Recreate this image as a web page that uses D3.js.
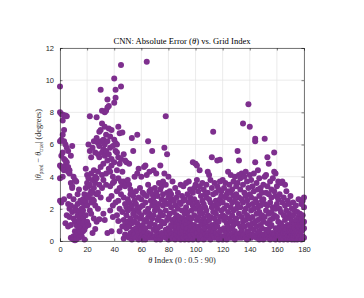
<!DOCTYPE html>
<html>
<head>
<meta charset="utf-8">
<script src="https://cdn.jsdelivr.net/npm/d3@7"></script>
<style>
  body { margin: 0; background: #fff; }
  .tick text { font-family: "Liberation Sans", Arial, sans-serif; font-size: 7.5px; fill: #262626; }
</style>
</head>
<body>
<div id="chart"></div>
<script>
// absolute error per grid index, several trials per index
const err000 = [
  [9.6, 8.0, 6.2, 4.7, 3.9, 2.5], [7.9, 6.3, 5.3, 4.6, 2.4], [7.85, 7.5, 6.6, 5.5, 4.5, 4.0],
  [7.8, 6.9, 6.2, 5.1, 4.4, 2.6], [7.8, 6.0, 5.0, 4.7, 1.1], [7.75, 5.8, 4.5, 4.9, 1.6],
  [5.6, 4.6, 4.3, 2.3, 0.9], [4.4, 4.2, 2.0, 1.5, 2.8], [5.3, 3.6, 2.2, 0.2, 1.0],
  [5.9, 3.4, 3.3, 0.15, 1.8], [4.0, 2.6, 1.4, 0.3, 0.1], [3.8, 2.1, 1.2, 0.6, 0.05],
  [3.7, 1.9, 1.0, 0.4, 0.1], [2.3, 1.6, 0.9, 0.5, 2.9], [3.2, 1.3, 0.7, 0.2, 1.9],
  [2.5, 1.5, 1.1, 0.6, 0.9], [2.0, 1.7, 0.8, 0.3, 2.4], [2.6, 1.4, 0.6, 1.9, 1.1],
  [2.9, 2.2, 1.2, 0.1, 0.7], [4.5, 3.3, 2.5, 0.9, 1.6]
];
const err020 = [
  [4.1, 3.6, 2.8, 1.2, 2.2], [6.0, 3.9, 3.4, 2.7, 1.0], [7.75, 5.6, 3.5, 2.9, 1.9],
  [5.2, 4.2, 3.1, 2.4, 1.7], [5.8, 3.8, 3.0, 2.6, 0.5], [6.2, 4.4, 3.3, 2.5, 1.4],
  [5.5, 4.0, 2.2, 3.6, 0.75], [7.7, 6.4, 3.9, 2.9, 1.2], [6.1, 5.4, 4.3, 3.0, 2.0],
  [6.8, 5.9, 5.2, 3.5, 1.35], [9.4, 6.9, 6.2, 4.6, 2.7], [8.1, 7.3, 5.5, 4.1, 3.3],
  [6.3, 5.7, 4.8, 3.8, 1.7], [8.0, 7.1, 6.0, 5.3, 1.3], [8.1, 6.6, 5.6, 4.2, 3.5],
  [8.8, 8.3, 6.2, 5.0, 0.5], [8.4, 7.0, 5.4, 4.5, 2.6], [6.5, 5.8, 4.3, 3.4, 1.9],
  [6.9, 5.1, 4.7, 2.8, 0.6], [5.9, 4.0, 3.6, 2.2, 1.5]
];
const err040 = [
  [10.1, 8.6, 6.3, 4.9, 3.7], [9.4, 8.9, 6.1, 5.6, 2.4], [6.0, 5.5, 4.4, 3.1, 1.6],
  [7.1, 5.2, 3.9, 2.5, 1.25], [6.7, 4.8, 3.3, 2.0, 0.6], [10.95, 9.6, 5.1, 3.7, 2.9],
  [6.75, 4.3, 3.5, 1.8, 0.9], [5.4, 3.7, 2.7, 1.3, 0.15], [5.0, 3.4, 2.3, 1.0, 0.4],
  [4.9, 3.6, 2.1, 0.8, 1.6], [3.8, 2.6, 1.9, 1.2, 0.3], [4.8, 3.5, 2.4, 0.9, 0.2],
  [3.2, 2.0, 1.4, 0.5, 2.9], [6.4, 3.0, 2.2, 1.1, 0.1], [5.6, 2.8, 1.7, 0.7, 0.3],
  [4.0, 2.5, 1.9, 0.4, 1.2], [3.1, 2.3, 1.5, 0.8, 0.2], [6.6, 4.2, 2.0, 1.1, 0.6],
  [4.5, 2.7, 1.8, 0.5, 0.1], [3.3, 2.1, 1.4, 0.9, 0.3]
];
const err060 = [
  [4.0, 2.6, 1.6, 0.7, 0.2], [3.0, 2.2, 1.0, 0.4, 0.1], [4.6, 2.9, 1.3, 0.6, 0.2],
  [4.7, 2.4, 1.8, 0.8, 0.1], [11.15, 4.1, 2.8, 1.2, 0.3], [6.2, 3.5, 2.0, 0.5, 1.5],
  [4.3, 3.1, 1.7, 0.9, 0.2], [3.2, 2.5, 1.1, 0.4, 0.3], [5.6, 2.9, 2.2, 1.4, 0.2],
  [4.4, 2.7, 1.6, 0.7, 0.25], [3.3, 2.4, 1.9, 1.0, 0.3], [4.2, 3.0, 2.1, 0.6, 0.1],
  [2.8, 2.0, 1.3, 0.8, 0.35], [3.6, 2.3, 1.5, 0.4, 0.2], [4.7, 3.2, 1.8, 0.9, 0.1],
  [3.4, 2.6, 1.2, 0.5, 0.3], [3.7, 2.9, 2.2, 1.6, 0.3], [5.8, 4.2, 2.5, 1.1, 0.4],
  [7.75, 3.5, 1.9, 0.7, 0.2], [5.4, 3.0, 2.3, 1.3, 0.5]
];
const err080 = [
  [4.0, 2.7, 1.5, 0.8, 0.1], [3.1, 2.4, 1.7, 0.6, 0.3], [2.9, 2.1, 1.0, 0.4, 0.15],
  [3.7, 2.6, 1.3, 0.9, 0.2], [2.5, 1.8, 1.2, 0.5, 0.3], [3.3, 2.2, 1.4, 0.7, 0.1],
  [2.7, 1.6, 1.1, 0.9, 0.4], [3.0, 2.0, 1.2, 0.3, 0.6], [2.4, 1.5, 1.0, 0.8, 0.2],
  [3.5, 2.3, 1.3, 0.5, 0.1], [2.8, 1.9, 1.1, 0.7, 0.3], [3.4, 2.5, 1.4, 0.9, 0.2],
  [2.6, 1.7, 1.2, 0.4, 0.1], [3.6, 2.1, 1.0, 0.6, 0.3], [2.9, 1.8, 1.3, 0.8, 0.2],
  [3.7, 2.4, 1.5, 0.5, 0.1], [3.2, 2.7, 1.1, 0.7, 0.3], [2.5, 1.9, 1.4, 0.9, 0.2],
  [4.9, 3.0, 2.2, 0.6, 0.1], [3.3, 2.6, 1.6, 1.0, 0.4]
];
const err100 = [
  [4.8, 3.5, 2.0, 0.8, 0.2], [4.7, 3.8, 2.4, 1.3, 0.5], [3.1, 2.2, 1.5, 0.9, 0.1],
  [4.4, 3.4, 1.8, 0.7, 0.3], [2.8, 2.0, 1.2, 0.4, 0.2], [3.6, 2.5, 1.7, 1.0, 0.3],
  [3.2, 2.3, 1.4, 0.6, 0.1], [2.9, 2.1, 1.1, 0.8, 0.4], [3.5, 2.7, 1.9, 1.2, 0.2],
  [4.3, 3.0, 1.6, 0.5, 0.3], [4.1, 2.6, 1.3, 0.9, 0.2], [3.8, 2.4, 1.5, 0.7, 0.1],
  [5.2, 3.3, 2.1, 1.0, 0.4], [6.8, 2.9, 1.8, 0.6, 0.3], [3.6, 2.2, 1.4, 0.8, 0.2],
  [3.0, 2.5, 1.7, 1.1, 0.5], [5.0, 3.4, 2.0, 0.9, 0.3], [3.2, 2.3, 1.2, 0.4, 0.1],
  [5.05, 3.7, 2.6, 1.5, 0.6], [3.1, 2.8, 1.9, 0.7, 0.2]
];
const err120 = [
  [3.8, 2.4, 1.6, 0.3, 0.1], [3.3, 2.0, 1.3, 0.8, 0.2], [3.6, 2.7, 1.5, 0.6, 0.3],
  [2.9, 2.2, 1.1, 0.5, 0.1], [4.3, 3.1, 1.8, 0.9, 0.2], [3.5, 2.6, 1.4, 0.7, 0.35],
  [4.1, 3.0, 2.1, 1.2, 0.2], [3.2, 2.4, 1.6, 0.8, 0.4], [3.7, 2.8, 1.9, 1.0, 0.2],
  [4.0, 2.5, 1.3, 0.6, 0.1], [3.4, 2.9, 2.0, 1.4, 0.3], [5.6, 3.6, 2.3, 1.1, 0.4],
  [5.0, 4.1, 2.7, 1.7, 0.2], [3.9, 3.2, 2.1, 0.9, 0.5], [4.2, 2.6, 1.5, 0.7, 0.2],
  [7.3, 3.5, 2.4, 1.2, 0.3], [4.0, 3.0, 1.8, 0.9, 0.4], [4.3, 2.8, 2.0, 1.3, 0.2],
  [3.7, 2.5, 1.6, 0.6, 0.1], [8.5, 3.3, 2.2, 1.0, 0.5]
];
const err140 = [
  [7.1, 4.1, 2.9, 1.4, 0.3], [3.8, 2.7, 1.9, 0.8, 0.2], [3.4, 2.3, 1.5, 1.1, 0.4],
  [4.2, 3.1, 2.0, 0.7, 0.3], [6.35, 6.2, 4.9, 2.6, 1.2], [3.6, 2.4, 1.7, 0.9, 0.2],
  [4.4, 3.2, 2.1, 1.3, 0.5], [3.9, 2.8, 1.8, 0.6, 0.1], [3.3, 2.2, 1.4, 1.0, 0.3],
  [3.0, 2.5, 1.6, 0.8, 0.2], [3.5, 2.6, 1.2, 0.4, 0.1], [6.35, 4.0, 2.3, 1.5, 0.3],
  [4.1, 3.0, 1.9, 0.7, 0.2], [5.2, 3.4, 2.2, 1.1, 0.4], [4.8, 2.9, 1.7, 0.6, 0.2],
  [3.7, 2.4, 1.3, 0.9, 0.1], [3.2, 2.7, 1.8, 1.0, 0.3], [3.9, 2.1, 1.4, 0.5, 0.2],
  [5.5, 4.3, 3.1, 1.6, 0.4], [4.2, 2.8, 2.0, 0.8, 0.1]
];
const err160 = [
  [3.4, 2.3, 1.5, 0.7, 0.3], [3.7, 2.6, 1.2, 0.4, 0.2], [2.9, 2.0, 0.9, 0.5, 0.1],
  [3.6, 1.8, 1.1, 0.3, 0.6], [3.7, 2.4, 0.8, 0.4, 0.2], [2.7, 1.6, 0.9, 0.5, 0.1],
  [3.5, 2.2, 1.3, 0.6, 0.3], [3.1, 1.9, 0.7, 0.4, 0.2], [2.5, 1.5, 1.0, 0.3, 0.1],
  [2.3, 1.7, 0.8, 0.6, 0.2], [2.8, 1.4, 0.9, 0.5, 0.3], [2.0, 1.2, 0.7, 0.4, 0.1],
  [2.4, 1.6, 0.6, 0.3, 0.2], [1.9, 1.1, 0.8, 0.5, 0.1], [2.2, 1.3, 0.7, 0.4, 0.2],
  [1.8, 1.0, 0.6, 0.3, 0.1], [2.6, 1.5, 0.9, 0.5, 0.2], [1.7, 1.2, 0.8, 0.4, 0.3],
  [2.3, 1.4, 1.0, 0.6, 0.1], [2.5, 1.6, 1.1, 0.7, 0.3], [2.7, 2.1, 1.2, 0.8, 0.2]
];

const xTicks = [0, 20, 40, 60, 80, 100, 120, 140, 160, 180];
const yTicks = [0, 2, 4, 6, 8, 10, 12];

// flatten into points, index runs 0..180
const allRows = [].concat(err000, err020, err040, err060, err080, err100, err120, err140, err160);
const points = [];
allRows.forEach(function (row, i) {
  row.forEach(function (v) { points.push({ idx: i, err: v }); });
});

const W = 364, H = 298;
const margin = { top: 48, right: 60, bottom: 57, left: 60 },
    width = W - margin.left - margin.right,
    height = H - margin.top - margin.bottom;

const svg = d3.select("#chart").append("svg")
    .attr("width", W)
    .attr("height", H);

const g = svg.append("g")
    .attr("transform", `translate(${margin.left},${margin.top})`);

const x = d3.scaleLinear().domain([0, 180]).range([0, width]);
const y = d3.scaleLinear().domain([0, 12]).range([height, 0]);

// grid
g.append("g")
  .selectAll("line")
  .data(xTicks)
  .join("line")
    .attr("x1", d => x(d)).attr("x2", d => x(d))
    .attr("y1", 0).attr("y2", height)
    .attr("stroke", "#e3e3e3").attr("stroke-width", 0.7);
g.append("g")
  .selectAll("line")
  .data(yTicks)
  .join("line")
    .attr("x1", 0).attr("x2", width)
    .attr("y1", d => y(d)).attr("y2", d => y(d))
    .attr("stroke", "#e3e3e3").attr("stroke-width", 0.7);

// points
g.append("g")
  .selectAll("circle")
  .data(points)
  .join("circle")
    .attr("cx", d => x(d.idx))
    .attr("cy", d => y(d.err))
    .attr("r", 3)
    .attr("fill", "#7E2F8E");

// axes, ticks pointing inward like matlab
const axisColor = "#262626";
const xAxis = g.append("g")
    .attr("transform", `translate(0,${height})`)
    .call(d3.axisBottom(x).tickValues(xTicks).tickSize(-2.5).tickPadding(6));
const yAxis = g.append("g")
    .call(d3.axisLeft(y).tickValues(yTicks).tickSize(-2.5).tickPadding(6));
g.append("g")
    .attr("transform", "translate(0,0)")
    .call(d3.axisTop(x).tickValues(xTicks).tickSize(-2.5).tickFormat(""));
g.append("g")
    .attr("transform", `translate(${width},0)`)
    .call(d3.axisRight(y).tickValues(yTicks).tickSize(-2.5).tickFormat(""));
g.selectAll(".domain, .tick line").attr("stroke", axisColor).attr("stroke-width", 0.6);

// title and labels (latex style serif)
const serif = "'Liberation Serif', 'DejaVu Serif', serif";

svg.append("text")
    .attr("x", margin.left + width / 2)
    .attr("y", 44)
    .attr("text-anchor", "middle")
    .style("font-family", serif)
    .style("font-size", "8.6px")
    .style("fill", "#000")
    .html("CNN: Absolute Error (<tspan font-style='italic'>θ</tspan>) vs. Grid Index");

svg.append("text")
    .attr("x", margin.left + width / 2)
    .attr("y", 263)
    .attr("text-anchor", "middle")
    .style("font-family", serif)
    .style("font-size", "8.2px")
    .style("fill", "#262626")
    .html("<tspan font-style='italic'>θ</tspan> Index (0 : 0.5 : 90)");

const yl = svg.append("text")
    .attr("transform", `translate(41,${margin.top + height / 2}) rotate(-90)`)
    .attr("text-anchor", "middle")
    .style("font-family", serif)
    .style("font-size", "8.2px")
    .style("fill", "#262626");
yl.append("tspan").text("|");
yl.append("tspan").attr("font-style", "italic").text("θ");
yl.append("tspan").attr("font-size", "5.5px").attr("dy", 1.8).text("pred");
yl.append("tspan").attr("dy", -1.8).text(" − ");
yl.append("tspan").attr("font-style", "italic").text("θ");
yl.append("tspan").attr("font-size", "5.5px").attr("dy", 1.8).text("true");
yl.append("tspan").attr("dy", -1.8).text("| (degrees)");
</script>
</body>
</html>
